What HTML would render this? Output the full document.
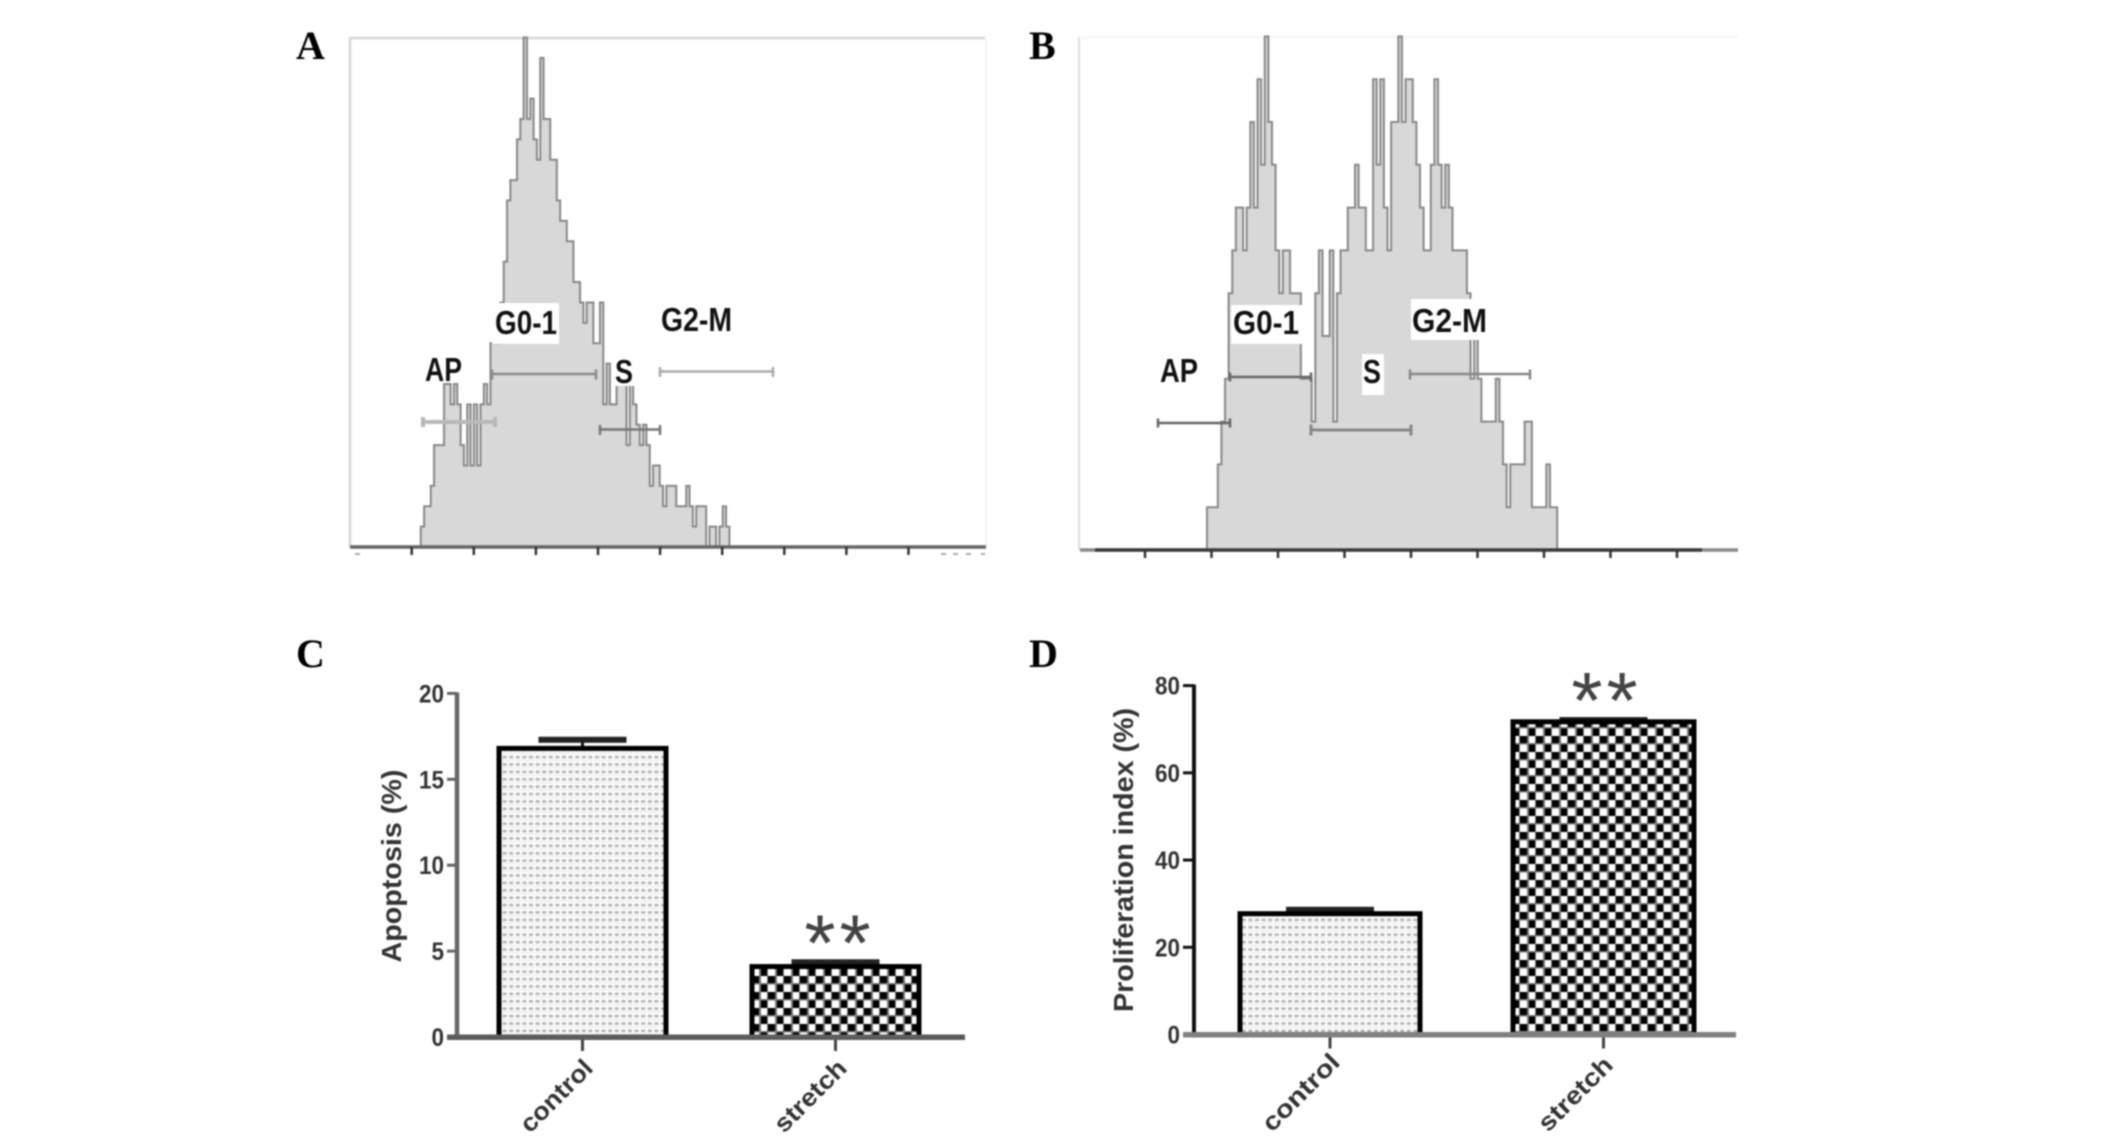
<!DOCTYPE html>
<html lang="en">
<head>
<meta charset="utf-8">
<title>Flow cytometry histograms and bar charts</title>
<style>
html,body{margin:0;padding:0;background:#fff;width:2126px;height:1145px;overflow:hidden}
svg{display:block;filter:blur(0.9px)}
text{font-family:"Liberation Sans",Arial,sans-serif}
.panel{font-family:"Liberation Serif","Times New Roman",serif;font-weight:bold;font-size:40px;fill:#000}
.gate-label{font-size:33px;font-weight:bold;fill:#111}
</style>
</head>
<body>
<svg id="figure" xmlns="http://www.w3.org/2000/svg" width="2126" height="1145" viewBox="0 0 2126 1145">
<defs>
<pattern id="dots" width="6.6" height="7.4" patternUnits="userSpaceOnUse">
<rect width="6.6" height="7.4" fill="#fbfbfb"/>
<rect x="1" y="1" width="4" height="2.6" fill="#b4b4b4"/>
<rect x="0" y="5" width="6.6" height="1.2" fill="#ececec"/>
</pattern>
<pattern id="checks" width="16" height="16" patternUnits="userSpaceOnUse">
<rect width="16" height="16" fill="#fff"/>
<rect x="0" y="0" width="8" height="8" fill="#000"/>
<rect x="8" y="8" width="8" height="8" fill="#000"/>
<rect x="7" y="0" width="2" height="16" fill="#777"/>
<rect x="15" y="0" width="2" height="16" fill="#777"/>
<rect x="0" y="7" width="16" height="1.5" fill="#777"/>
</pattern>
</defs>

<text class="panel" x="296" y="59">A</text>
<text class="panel" x="1029" y="59">B</text>
<text class="panel" x="296" y="667">C</text>
<text class="panel" x="1029" y="667">D</text>

<g id="histA">
<path d="M350 547V38H985" fill="none" stroke="#dcdcdc" stroke-width="3"/>
<line x1="986" y1="38" x2="986" y2="547" stroke="#f4f4f4" stroke-width="2"/>
<path d="M355 554H360M941 554H946M953 554H958M966 554H971M981 554H985" fill="none" stroke="#aaa" stroke-width="2"/>
</g>
<g id="histB">
<line x1="1079" y1="37" x2="1079" y2="550" stroke="#dedede" stroke-width="2"/>
<line x1="1079" y1="37" x2="1738" y2="37" stroke="#f6f6f6" stroke-width="2"/>
<line x1="1080" y1="550" x2="1738" y2="550" stroke="#8a8a8a" stroke-width="3.5"/>
</g>

<g id="gatesA">
<rect x="492" y="303" width="67" height="41" fill="#fff"/>
<rect x="613" y="356" width="23" height="30" fill="#fff"/>
<path d="M423 422H495M423 417V427M495 417V427" fill="none" stroke="#b8b8b8" stroke-width="4"/>
<path d="M492 374H596M492 369.5V379.5M596 369.5V379.5" fill="none" stroke="#8a8a8a" stroke-width="2.5"/>
<path d="M600 429.5H660M600 425V435M660 425V435" fill="none" stroke="#777" stroke-width="2.5"/>
<path d="M660 371.5H773M660 367V377M773 367V377" fill="none" stroke="#aaa" stroke-width="2.5"/>
<text class="gate-label" x="425" y="381" textLength="37" lengthAdjust="spacingAndGlyphs">AP</text>
<text class="gate-label" x="495" y="334" textLength="62" lengthAdjust="spacingAndGlyphs">G0-1</text>
<text class="gate-label" x="615" y="383" textLength="18" lengthAdjust="spacingAndGlyphs">S</text>
<text class="gate-label" x="661" y="331" textLength="71" lengthAdjust="spacingAndGlyphs">G2-M</text>
</g>

<g id="gatesB">
<rect x="1231" y="305" width="72" height="39" fill="#fff"/>
<rect x="1411" y="299" width="77" height="41" fill="#fff"/>
<rect x="1362" y="354" width="22" height="41" fill="#fff"/>
<path d="M1158 423H1230M1158 418.5V427.5M1230 418.5V427.5" fill="none" stroke="#666" stroke-width="2.5"/>
<path d="M1230 377H1311M1230 372.5V381.5M1311 372.5V381.5" fill="none" stroke="#666" stroke-width="2.5"/>
<path d="M1311 430H1411M1311 424.5V435.5M1411 424.5V435.5" fill="none" stroke="#888" stroke-width="3"/>
<path d="M1410 374H1530M1410 369.5V379.5M1530 369.5V379.5" fill="none" stroke="#888" stroke-width="2.5"/>
<text class="gate-label" x="1160" y="382" textLength="38" lengthAdjust="spacingAndGlyphs">AP</text>
<text class="gate-label" x="1233" y="334" textLength="66" lengthAdjust="spacingAndGlyphs">G0-1</text>
<text class="gate-label" x="1363" y="383" textLength="18" lengthAdjust="spacingAndGlyphs">S</text>
<text class="gate-label" x="1412" y="332" textLength="75" lengthAdjust="spacingAndGlyphs">G2-M</text>
</g>

<g id="chartC"></g>
<g id="chartD"></g>
</svg>

<script>
// Histogram event counts per channel bin
const histACounts = [1,2,2,3,5,5,5,8,8,7,8,7,5,4,7,4,7,4,7,8,7,10,10,10,12,14,17,18,18,20,21,25,21,22,20,19,24,21,21,19,19,17,16,16,15,15,13,13,12,11,12,12,10,10,12,7,9,7,7,8,8,8,5,8,7,6,5,6,5,3,4,4,3,2,3,3,3,2,2,2,3,2,1,2,2,2,0,1,1,0,1,2,1,0];
const histBCounts = [1,1,1,2,3,4,6,7,8,8,7,8,10,8,11,9,12,10,9,7,6,7,7,6,6,6,4,4,4,3,6,7,5,5,7,3,6,7,7,8,8,9,8,8,7,7,11,9,11,8,7,10,10,12,10,11,11,10,9,8,7,7,9,11,9,8,9,8,7,7,7,7,6,4,5,4,3,3,3,3,4,3,2,1,2,2,2,2,3,3,1,1,1,1,2,1,1];

// Bar chart values
const barCategories = ['control', 'stretch'];
const apoptosisValues = [16.8, 4.1];
const apoptosisErrors = [0.5, 0.25];
const apoptosisTicks = [0, 5, 10, 15, 20];
const proliferationValues = [27.7, 71.7];
const proliferationErrors = [0.9, 0.4];
const proliferationTicks = [0, 20, 40, 60, 80];

const NS = 'http://www.w3.org/2000/svg';
function mk(parent, tag, attrs, txt) {
  const el = document.createElementNS(NS, tag);
  for (const k in attrs) el.setAttribute(k, attrs[k]);
  if (txt !== undefined) el.textContent = txt;
  parent.appendChild(el);
  return el;
}

function drawHistogram(groupId, counts, x0, binW, y0, unit, tickStart, tickStep, axisColor, key, axisFrom, axisTo) {
  const g = document.getElementById(groupId);
  const xS = i => x0 + i * binW;
  const yS = c => y0 - c * unit;
  let d = 'M' + xS(0) + ' ' + y0;
  counts.forEach((c, i) => {
    d += 'L' + xS(i) + ' ' + yS(c) + 'L' + xS(i + 1) + ' ' + yS(c);
  });
  d += 'L' + xS(counts.length) + ' ' + y0 + 'Z';
  const area = mk(g, 'path', {d: d, fill: '#d8d8d8', stroke: '#888', 'stroke-width': 2});
  
  
  const axis = mk(g, 'line', {x1: axisFrom, x2: axisTo, y1: y0, y2: y0, stroke: axisColor, 'stroke-width': 3.5});
  
  
  for (let t = 0; t < 9; t++) {
    const tx = tickStart + t * tickStep;
    const tick = mk(g, 'line', {x1: tx, x2: tx, y1: y0, y2: y0 + 8, stroke: '#333', 'stroke-width': 2.5});
    
    
  }
}
drawHistogram('histA', histACounts, 420.8, 3.318, 547, 20.38, 411.7, 62.1, '#666', 'histogram-a', 350, 986);
drawHistogram('histB', histBCounts, 1207, 3.61, 550, 42.8, 1145, 66.5, '#3c3c3c', 'histogram-b', 1095, 1702);

function drawBars(cfg) {
  const g = document.getElementById(cfg.id);
  const yS = v => cfg.y0 - v / cfg.max * (cfg.y0 - cfg.yTop);

  cfg.ticks.forEach(t => {
    const ty = yS(t);
    const tick = mk(g, 'line', {x1: cfg.axisX - cfg.tickLen, x2: cfg.axisX, y1: ty, y2: ty, stroke: cfg.axisColor, 'stroke-width': 3});
    
    
    const s = String(t);
    const lab = mk(g, 'text', {x: cfg.labelX, y: ty + 9, 'text-anchor': 'end', 'font-size': 25, 'font-weight': 'bold', fill: '#333', textLength: 12.5 * s.length, lengthAdjust: 'spacingAndGlyphs'}, s);
    
    
  });

  const yAxis = mk(g, 'line', {x1: cfg.axisX, x2: cfg.axisX, y1: yS(cfg.max) - 1, y2: cfg.y0, stroke: cfg.axisColor, 'stroke-width': cfg.axisW});
  
  

  const title = mk(g, 'text', {transform: 'translate(' + cfg.titleX + ' ' + cfg.titleY + ') rotate(-90)', 'text-anchor': 'middle', 'font-size': 28, 'font-weight': 'bold', fill: '#333', textLength: cfg.titleLen, lengthAdjust: 'spacingAndGlyphs'}, cfg.title);
  
  

  barCategories.forEach((cat, i) => {
    const v = cfg.values[i], top = yS(v), b = cfg.bars[i];
    const cx = b.x + b.w / 2;

    const errY = yS(v + cfg.errors[i]);
    const stem = mk(g, 'line', {x1: cx, x2: cx, y1: errY, y2: top, stroke: '#111', 'stroke-width': 3});
    
    
    const cap = mk(g, 'rect', {x: cx - 44, y: errY - 3, width: 88, height: 6, fill: '#222'});
    
    

    const bar = mk(g, 'rect', {x: b.x, y: top, width: b.w, height: cfg.y0 - top, fill: i === 0 ? 'url(#dots)' : 'url(#checks)', stroke: '#000', 'stroke-width': 5});
    
    

    const xt = mk(g, 'line', {x1: cx, x2: cx, y1: cfg.y0, y2: cfg.y0 + 14, stroke: '#444', 'stroke-width': 3});
    
    

    const xl = mk(g, 'text', {transform: 'translate(' + b.lx + ' ' + b.ly + ') rotate(-45)', 'font-size': 25, 'font-weight': 'bold', fill: '#333', textLength: b.ll, lengthAdjust: 'spacingAndGlyphs'}, cat);
    
    

    if (i === cfg.starIndex) {
      const star = mk(g, 'text', {x: cx + cfg.starDx, y: top + cfg.starDy, 'text-anchor': 'middle', 'font-size': 80, 'letter-spacing': 4, fill: '#444'}, '**');
      
      
    }
  });

  const xAxis = mk(g, 'rect', {x: cfg.xFrom, y: cfg.y0 - 2.5, width: cfg.xTo - cfg.xFrom, height: 5.5, fill: cfg.xAxisColor});
  
  
}

drawBars({
  id: 'chartC', y0: 1037, yTop: 693.4, max: 20, ticks: apoptosisTicks, values: apoptosisValues, errors: apoptosisErrors,
  axisX: 457, axisW: 4.5, tickLen: 10, labelX: 444, axisColor: '#666', xAxisColor: '#5c5c5c', xFrom: 447, xTo: 965,
  title: 'Apoptosis (%)', titleX: 401, titleY: 866, titleLen: 193,
  starIndex: 1, starDx: 4, starDy: 4,
  bars: [{x: 499, w: 167, lx: 530, ly: 1134, ll: 91}, {x: 752, w: 167, lx: 784, ly: 1134, ll: 91}]
});
drawBars({
  id: 'chartD', y0: 1034.5, yTop: 685.6, max: 80, ticks: proliferationTicks, values: proliferationValues, errors: proliferationErrors,
  axisX: 1194, axisW: 4, tickLen: 11, labelX: 1180, axisColor: '#111', xAxisColor: '#808080', xFrom: 1183, xTo: 1736,
  title: 'Proliferation index (%)', titleX: 1133, titleY: 860, titleLen: 304,
  starIndex: 1, starDx: 3, starDy: 6,
  bars: [{x: 1240, w: 180, lx: 1272, ly: 1133, ll: 98}, {x: 1513, w: 181, lx: 1548, ly: 1133, ll: 94}]
});
</script>
</body>
</html>
